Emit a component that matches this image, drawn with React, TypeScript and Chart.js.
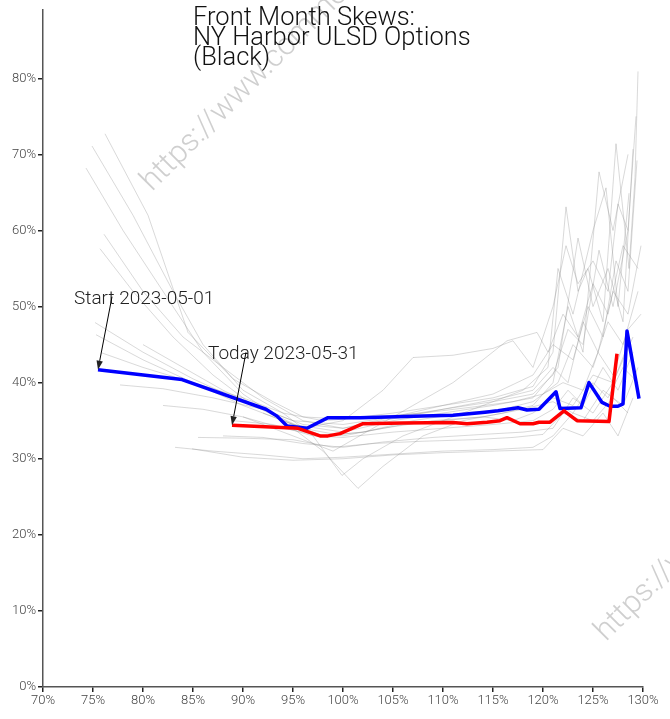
import React, { useEffect, useRef } from 'react';
import { Chart, registerables } from 'chart.js';

Chart.register(...registerables);

const titleLines = ['Front Month Skews:', 'NY Harbor ULSD Options', '(Black)'];
const xTicks = [70, 75, 80, 85, 90, 95, 100, 105, 110, 115, 120, 125, 130];
const yTicks = [0, 10, 20, 30, 40, 50, 60, 70, 80];
const startLabel = 'Start 2023-05-01';
const todayLabel = 'Today 2023-05-31';
const watermarkText = 'https://www.commodity.com';

// Start (2023-05-01) skew
const startStrikes = [75.5, 83.9, 92.3, 93.4, 94.4, 96.4, 98.5, 101.7, 108, 111, 114.2, 115.5, 117.5, 118.4, 119.6, 121.3, 121.7, 123.8, 124.6, 125.9, 126.7, 127.5, 128.0, 128.4, 129.6];
const startVols = [41.7, 40.4, 36.5, 35.6, 34.3, 34.0, 35.4, 35.4, 35.6, 35.7, 36.1, 36.3, 36.7, 36.4, 36.5, 38.8, 36.6, 36.7, 40.0, 37.4, 36.9, 36.9, 37.2, 46.8, 37.9];

// Today (2023-05-31) skew
const todayStrikes = [88.9, 95.5, 97.7, 98.5, 99.7, 102.0, 106, 111, 112.4, 114.4, 115.7, 116.4, 117.7, 119, 119.6, 120.7, 122.1, 123.4, 126.6, 127.4];
const todayVols = [34.4, 34.0, 33.0, 33.0, 33.3, 34.6, 34.7, 34.75, 34.6, 34.8, 35.0, 35.4, 34.6, 34.6, 34.8, 34.8, 36.3, 35.0, 34.9, 43.8];

// Intermediate days (grey)
const g01 = [[76.2, 72.7], [80.5, 62], [84.5, 46.6], [89, 40.5], [93, 37.5], [96, 35.5], [100, 35.2], [105, 36], [110, 37], [115, 38], [119, 39.5], [121, 44], [122.3, 63.1], [123.5, 52], [124.5, 55], [126, 48], [127.3, 71.4], [128.6, 55], [129.2, 66.9], [129.5, 80.9]];
const g02 = [[74.9, 71.1], [79, 62], [83, 52], [86, 45], [90, 39], [94, 36], [97, 33], [99.9, 27.8], [102, 30], [106, 33], [110, 35], [114, 37], [118, 39], [120.5, 42], [121.5, 55], [123, 49], [125, 60], [126.3, 65.6], [127.5, 50], [128.6, 64.9]];
const g03 = [[74.3, 68.2], [78, 60], [82, 52], [86, 44], [90, 38.5], [94, 35], [98, 31], [101.5, 26.1], [104, 29], [108, 33], [112, 35], [116, 36], [119, 37], [121, 40], [122.5, 50], [124, 44], [125.6, 67.7], [127, 60], [128.5, 70]];
const g04 = [[76.1, 59.5], [80, 52], [84, 46], [88, 42], [92, 38], [96, 35], [100, 34], [105, 35.5], [110, 37], [115, 38.5], [119, 41], [121, 45], [123, 43], [124.5, 50], [126, 46], [127.3, 56], [128.5, 52], [129.4, 69.2]];
const g05 = [[75.7, 57.6], [79, 52], [83, 46], [87, 41], [91, 37], [95, 34.5], [100, 33.5], [105, 35], [110, 36], [115, 37], [119, 38], [121.5, 42], [123.5, 59], [125, 50], [126.5, 55], [128, 48], [129, 70.7]];
const g06 = [[75.2, 47.9], [80, 44], [85, 40.5], [90, 37.5], [95, 35], [100, 34.5], [105, 35.5], [110, 36.5], [115, 37.5], [119, 38.5], [121, 41], [122.5, 47], [124, 45], [125.6, 57.4], [127, 50], [128.5, 60]];
const g07 = [[75.3, 46.3], [80, 43], [85, 40], [90, 37], [94, 35], [98, 33], [102, 33.5], [107, 35], [112, 36], [116, 36.5], [119, 37.5], [121.5, 40], [123, 45], [125, 42], [126.5, 48], [128, 45], [129.5, 52]];
const g08 = [[75.9, 43.9], [80, 42], [85, 40], [90, 38], [94, 36], [98, 35], [103, 35.5], [108, 36], [113, 36.8], [117, 37.5], [120, 38.5], [122, 40], [124, 39], [125.5, 44], [127, 41], [128.5, 47], [129.8, 49]];
const g09 = [[77.7, 39.7], [82, 39.2], [87, 38], [92, 36.5], [96, 34], [100, 33], [104, 34], [109, 35], [114, 35.5], [118, 36.5], [121, 37.5], [123, 36], [125, 40], [126.5, 38], [128, 42], [129.5, 40]];
const g10 = [[83.2, 31.5], [87, 31], [92, 30.5], [96, 30], [100, 30.2], [105, 30.6], [110, 31], [115, 31.2], [119, 31.5], [121, 33], [123, 36], [125, 35], [127, 38], [128.5, 36]];
const g11 = [[84.9, 31.3], [90, 30.2], [95, 29.8], [100, 30], [105, 30.5], [110, 30.8], [115, 31], [120, 31.2], [122, 34], [124, 33], [126, 36], [127.5, 33], [129, 38]];
const g12 = [[85.5, 32.8], [90, 32.7], [95, 32.5], [99, 31.5], [103, 32], [108, 32.3], [113, 32.5], [117, 32.8], [120, 33.2], [122, 36], [124, 35], [126, 39], [128, 37], [129.5, 42]];
const g13 = [[88, 33.0], [92, 32.8], [96, 32], [100, 31.5], [104, 32.2], [109, 32.8], [114, 33.2], [118, 33.5], [121, 34], [123, 38], [125, 36], [127, 40], [128.5, 45]];
const g14 = [[89, 35], [93, 34.5], [97, 33], [100, 32.8], [105, 33.5], [110, 34], [115, 34.5], [119, 35], [121, 36.5], [122.5, 39], [124, 37], [126, 42], [127.5, 39], [129, 44]];
const g15 = [[90, 35.5], [95, 33], [99, 31], [103, 34], [107, 37], [111, 40], [114, 43], [116.4, 45.5], [119.4, 46.6], [120.5, 44], [122, 49], [123.5, 46], [125, 53], [126.5, 49], [128, 58], [129.5, 55]];
const g16 = [[92, 36], [96, 34], [100, 35], [104, 39], [107, 43.3], [111, 43.6], [115, 44.5], [117, 45.5], [119, 42], [121, 50], [122.3, 58], [123.5, 53], [125, 56], [126.5, 52], [127.5, 63.5], [128.5, 60], [129.3, 75]];
const g17 = [[80, 45], [84, 42], [88, 39], [92, 36.5], [96, 34.5], [100, 34], [104, 35], [108, 36], [112, 37], [116, 38], [119, 39], [121, 42], [122.5, 40], [124, 48], [125.5, 44], [127, 52], [128.5, 49], [129.8, 58]];
const g18 = [[82, 37], [86, 36.5], [90, 35.5], [94, 34], [98, 33], [102, 33.5], [106, 34.5], [110, 35], [114, 35.5], [117, 35], [119, 36], [121, 38], [123, 37], [125, 41], [127, 40], [129, 46]];
const greySeries = [g01, g02, g03, g04, g05, g06, g07, g08, g09, g10, g11, g12, g13, g14, g15, g16, g17, g18];

const FONT = 'Roboto';

function drawArrowLabel(ctx: CanvasRenderingContext2D, px: number, py: number, text: string) {
  ctx.save();
  ctx.fillStyle = '#222';
  ctx.strokeStyle = '#000';
  ctx.font = `300 19px ${FONT}`;
  ctx.textBaseline = 'alphabetic';
  ctx.textAlign = 'left';
  ctx.fillText(text, px - 24, py - 66);
  const sx = px + 14;
  const sy = py - 73;
  const ang = Math.atan2(py - sy, px - sx);
  const hl = 9;
  const hw = 3.2;
  const bx = px - hl * Math.cos(ang);
  const by = py - hl * Math.sin(ang);
  ctx.lineWidth = 1;
  ctx.beginPath();
  ctx.moveTo(sx, sy);
  ctx.lineTo(bx, by);
  ctx.stroke();
  ctx.beginPath();
  ctx.moveTo(px, py);
  ctx.lineTo(bx + hw * Math.sin(ang), by - hw * Math.cos(ang));
  ctx.lineTo(bx - hw * Math.sin(ang), by + hw * Math.cos(ang));
  ctx.closePath();
  ctx.fill();
  ctx.restore();
}

function drawWatermark(ctx: CanvasRenderingContext2D, x: number, y: number) {
  ctx.save();
  ctx.fillStyle = 'rgba(175,175,175,0.6)';
  ctx.font = `300 31px ${FONT}`;
  ctx.textBaseline = 'alphabetic';
  ctx.translate(x, y);
  ctx.rotate(-Math.PI / 4);
  ctx.fillText(watermarkText, 0, 0);
  ctx.restore();
}

const overlayPlugin = {
  id: 'overlay',
  afterDraw(chart: any) {
    const ctx: CanvasRenderingContext2D = chart.ctx;
    const xs = chart.scales.x;
    const ys = chart.scales.y;
    drawWatermark(ctx, 152, 192);
    drawWatermark(ctx, 606, 642);
    drawArrowLabel(ctx, xs.getPixelForValue(startStrikes[0]), ys.getPixelForValue(startVols[0]), startLabel);
    drawArrowLabel(ctx, xs.getPixelForValue(todayStrikes[0]), ys.getPixelForValue(todayVols[0]), todayLabel);
    ctx.save();
    ctx.fillStyle = '#111';
    ctx.font = `300 25.5px ${FONT}`;
    ctx.textBaseline = 'alphabetic';
    titleLines.forEach((t, i) => ctx.fillText(t, 193, 25 + i * 20));
    ctx.restore();
  },
};

export default function App() {
  const ref = useRef<HTMLCanvasElement | null>(null);
  useEffect(() => {
    if (!ref.current) return;
    const toPts = (xsArr: number[], ysArr: number[]) => xsArr.map((x, i) => ({ x, y: ysArr[i] }));
    const datasets: any[] = [
      { label: todayLabel, data: toPts(todayStrikes, todayVols), borderColor: 'rgb(255,0,0)', borderWidth: 3.5 },
      { label: startLabel, data: toPts(startStrikes, startVols), borderColor: 'rgb(0,0,255)', borderWidth: 3.5 },
      ...greySeries.map((s, i) => ({
        label: 'd' + i,
        data: s.map(([x, y]) => ({ x, y })),
        borderColor: 'rgba(140,140,140,0.33)',
        borderWidth: 1,
      })),
    ];
    const chart = new Chart(ref.current, {
      type: 'line',
      data: { datasets },
      plugins: [overlayPlugin],
      options: {
        animation: false,
        responsive: false,
        devicePixelRatio: 1,
        layout: { padding: { top: 8, right: 27, left: 0, bottom: 0 } },
        elements: { point: { radius: 0 }, line: { tension: 0, borderJoinStyle: 'round' } },
        plugins: { legend: { display: false }, tooltip: { enabled: false }, title: { display: false } },
        scales: {
          x: {
            type: 'linear',
            min: 70,
            max: 130,
            afterBuildTicks: (s: any) => { s.ticks = xTicks.map((v) => ({ value: v })); },
            afterFit: (s: any) => { s.height = 32; },
            border: { display: true, color: '#555', width: 1.5 },
            grid: { display: true, drawOnChartArea: false, drawTicks: true, tickLength: 5, color: '#222', lineWidth: 1.5 },
            ticks: { color: '#444', padding: 1, maxRotation: 0, font: { family: FONT, weight: 300 as any, size: 13 }, callback: (v: any) => v + '%' },
          },
          y: {
            type: 'linear',
            min: 0,
            max: 89,
            afterBuildTicks: (s: any) => { s.ticks = yTicks.map((v) => ({ value: v })); },
            afterFit: (s: any) => { s.width = 43; },
            border: { display: true, color: '#555', width: 1.5 },
            grid: { display: true, drawOnChartArea: false, drawTicks: true, tickLength: 5, color: '#222', lineWidth: 1.5 },
            ticks: { color: '#444', padding: 2, font: { family: FONT, weight: 300 as any, size: 13 }, callback: (v: any) => v + '%' },
          },
        },
      },
    });
    return () => chart.destroy();
  }, []);
  return (
    <div style={{ position: 'fixed', left: 0, top: 0, width: 670, height: 719, background: '#fff' }}>
      <canvas ref={ref} width={670} height={719} style={{ width: 670, height: 719, display: 'block' }} />
    </div>
  );
}
